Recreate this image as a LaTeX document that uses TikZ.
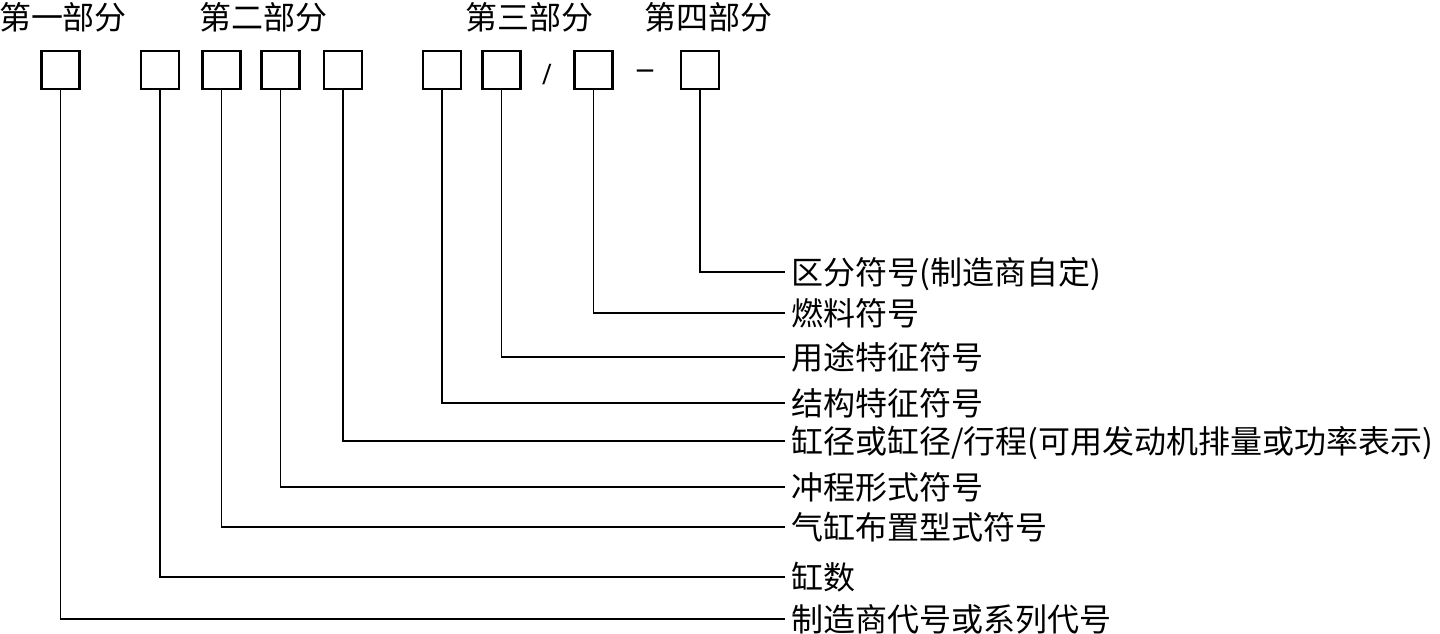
\documentclass[tikz,border=0pt]{standalone}
\usepackage{fontspec}
\setmainfont{Liberation Serif}
\newfontfamily\cjk{Noto Sans CJK SC}
\begin{document}
\begin{tikzpicture}[x=0.75pt,y=-0.75pt,
  cell/.style={draw,line width=2.2pt,minimum size=28.5pt,inner sep=0pt},
  lead/.style={line width=1.1pt},
  sep/.style={inner sep=0pt},
  lbl/.style={anchor=west,inner xsep=4.5pt,inner ysep=0pt,font=\cjk\fontsize{24}{24}\selectfont,text height=19.9pt,text depth=1.7pt},
  head/.style={inner sep=0pt,font=\cjk\fontsize{24}{24}\selectfont,text height=19.9pt,text depth=1.7pt}]
\useasboundingbox (0,0) rectangle (1440,634);
% headings
\node[head] (h1) at (63,17) {第一部分};
\node[head] (h2) at (263,17) {第二部分};
\node[head] (h3) at (529,17) {第三部分};
\node[head] (h4) at (708,17) {第四部分};
% boxes
\node[cell] (b1) at (60.5,70) {};
\node[cell] (b2) at (160,70) {};
\node[cell] (b3) at (221.5,70) {};
\node[cell] (b4) at (280.5,70) {};
\node[cell] (b5) at (343,70) {};
\node[cell] (b6) at (442,70) {};
\node[cell] (b7) at (501.5,70) {};
\node[cell] (b8) at (593.5,70) {};
\node[cell] (b9) at (700,70) {};
\node[sep,font=\bfseries\fontsize{23}{23}\selectfont] (sl) at (547,75) {/};
\node[sep,font=\bfseries\fontsize{24}{24}\selectfont] (ds) at (645,74) {–};
% labels
\node[lbl] (l9) at (785,272) {区分符号(制造商自定)};
\node[lbl] (l8) at (785,313) {燃料符号};
\node[lbl] (l7) at (785,357) {用途特征符号};
\node[lbl] (l6) at (785,403) {结构特征符号};
\node[lbl] (l5) at (785,441) {缸径或缸径/行程(可用发动机排量或功率表示)};
\node[lbl] (l4) at (785,487) {冲程形式符号};
\node[lbl] (l3) at (785,527) {气缸布置型式符号};
\node[lbl] (l2) at (785,577) {缸数};
\node[lbl] (l1) at (785,619) {制造商代号或系列代号};
% leaders
\draw[lead] (b9.south) |- (l9.west);
\draw[lead] (b8.south) |- (l8.west);
\draw[lead] (b7.south) |- (l7.west);
\draw[lead] (b6.south) |- (l6.west);
\draw[lead] (b5.south) |- (l5.west);
\draw[lead] (b4.south) |- (l4.west);
\draw[lead] (b3.south) |- (l3.west);
\draw[lead] (b2.south) |- (l2.west);
\draw[lead] (b1.south) |- (l1.west);
\end{tikzpicture}
\end{document}
